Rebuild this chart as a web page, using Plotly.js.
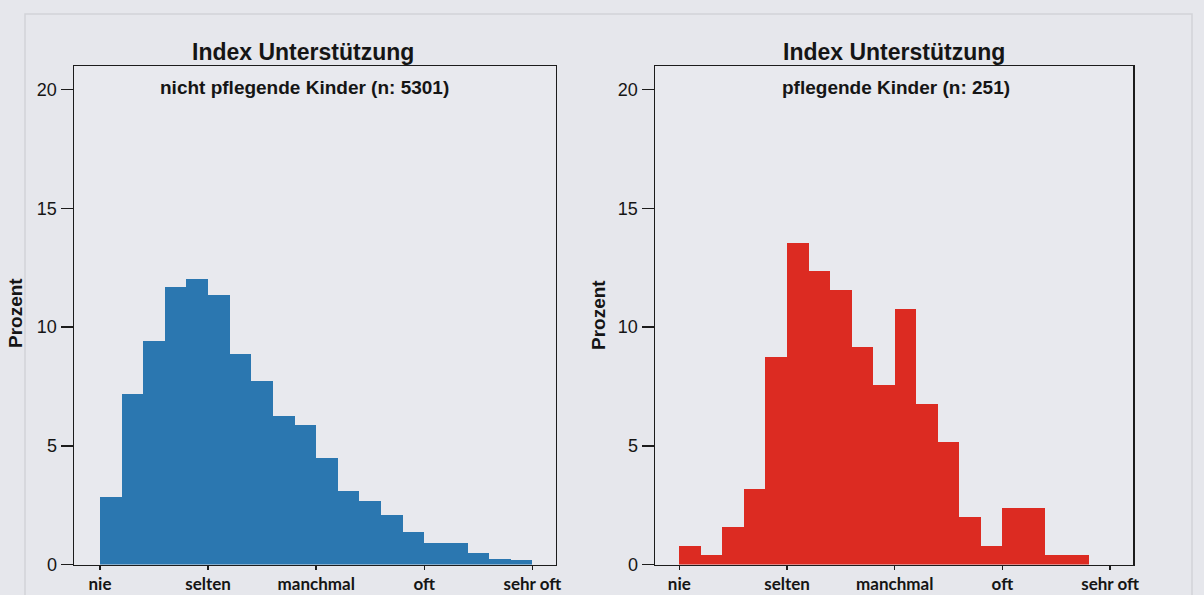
<!DOCTYPE html>
<html>
<head>
<meta charset="utf-8">
<script src="https://cdn.plot.ly/plotly-3.0.1.min.js"></script>
<style>
  html, body { margin: 0; padding: 0; background: #e6e7ec; }
  #chart { width: 1204px; height: 595px; }
</style>
</head>
<body>
<div id="chart"></div>
<script>
// ---- data ----
const categories = ['nie', 'selten', 'manchmal', 'oft', 'sehr oft'];
const categoryValues = [1, 2, 3, 4, 5];
const binCenters = [1.1, 1.3, 1.5, 1.7, 1.9, 2.1, 2.3, 2.5, 2.7, 2.9,
                    3.1, 3.3, 3.5, 3.7, 3.9, 4.1, 4.3, 4.5, 4.7, 4.9];
const nichtPflegend = [2.85, 7.19, 9.43, 11.69, 12.03, 11.34, 8.87, 7.75, 6.24, 5.89,
                       4.47, 3.09, 2.68, 2.08, 1.38, 0.91, 0.91, 0.49, 0.24, 0.17];
const pflegend = [0.80, 0.40, 1.59, 3.19, 8.76, 13.55, 12.35, 11.55, 9.16, 7.57,
                  10.76, 6.77, 5.18, 1.99, 0.80, 2.39, 2.39, 0.40, 0.40, 0.00];
const yTicks = [0, 5, 10, 15, 20];
const mainTitle = 'Index Unterstützung';
const subTitleLeft = 'nicht pflegende Kinder (n: 5301)';
const subTitleRight = 'pflegende Kinder (n: 251)';
const yTitle = 'Prozent';

// ---- layout helpers (pixel -> paper) ----
const W = 1204, H = 595;
const px = v => v / W;
const py = v => 1 - v / H;

const AX = '#1c1c1c';
const bg = '#e8e9ee';
const ARIAL = 'Arial, "Liberation Sans", sans-serif';

const traces = [
  { type: 'bar', x: binCenters, y: nichtPflegend, width: 0.2, xaxis: 'x', yaxis: 'y',
    marker: { color: '#2b77b0', line: { width: 0 } }, hoverinfo: 'x+y' },
  { type: 'bar', x: binCenters, y: pflegend, width: 0.2, xaxis: 'x2', yaxis: 'y2',
    marker: { color: '#dc2b22', line: { width: 0 } }, hoverinfo: 'x+y' }
];

function xAxis(domain, range) {
  return {
    domain: domain, range: range, tickmode: 'array',
    tickvals: categoryValues, ticktext: categories,
    ticks: 'outside', ticklen: 4, tickwidth: 1.5, tickcolor: AX,
    showline: true, mirror: true, linecolor: AX, linewidth: 1.5,
    showgrid: false, zeroline: false, fixedrange: true,
    ticklabelstandoff: 0,
    tickfont: { family: 'Lato, "Open Sans", sans-serif', size: 17, color: '#151515', weight: 'bold' }
  };
}
function yAxis(domain, anchor) {
  return {
    domain: domain, range: [0, 21], anchor: anchor, tickmode: 'array',
    tickvals: yTicks, ticktext: yTicks.map(String),
    ticks: 'outside', ticklen: 12, tickwidth: 1.5, tickcolor: AX,
    showline: true, mirror: true, linecolor: AX, linewidth: 1.5,
    showgrid: false, zeroline: false, fixedrange: true,
    tickfont: { family: ARIAL, size: 18, color: '#151515' }
  };
}

const yDom = [py(564.5), py(66)];
const titleFont = { family: ARIAL, size: 23, color: '#151515', weight: 'bold' };
const subFont = { family: ARIAL, size: 19, color: '#151515', weight: 'bold' };
const yTitleFont = { family: ARIAL, size: 19, color: '#151515', weight: 'bold' };

function ann(text, x, y, font, angle) {
  return { text: text, xref: 'paper', yref: 'paper', x: px(x), y: py(y),
           xanchor: 'center', yanchor: 'middle', showarrow: false, font: font,
           textangle: angle || 0 };
}

const layout = {
  width: W, height: H,
  margin: { l: 0, r: 0, t: 0, b: 0 },
  paper_bgcolor: '#e6e7ec',
  plot_bgcolor: bg,
  showlegend: false,
  bargap: 0,
  xaxis: xAxis([px(74), px(555.7)], [0.7595, 5.2155]),
  yaxis: yAxis(yDom, 'x'),
  xaxis2: xAxis([px(655), px(1133.3)], [0.7744, 5.2154]),
  yaxis2: yAxis(yDom, 'x2'),
  shapes: [
    { type: 'rect', xref: 'paper', yref: 'paper', x0: px(25), x1: px(1192), y0: py(640), y1: py(14),
      line: { color: '#d2d3d8', width: 1.5 }, fillcolor: 'rgba(0,0,0,0)', layer: 'below' }
  ],
  annotations: [
    ann(mainTitle, 303, 52, titleFont),
    ann(subTitleLeft, 304, 87, subFont),
    ann(mainTitle, 894, 52, titleFont),
    ann(subTitleRight, 896, 87, subFont),
    ann(yTitle, 15, 313, yTitleFont, -90),
    ann(yTitle, 598, 315, yTitleFont, -90)
  ]
};

Plotly.newPlot('chart', traces, layout, { displayModeBar: false, staticPlot: true });
</script>
</body>
</html>
